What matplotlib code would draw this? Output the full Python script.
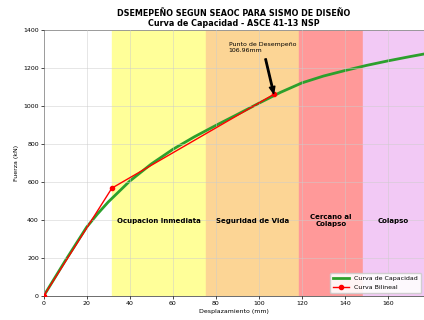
import matplotlib
matplotlib.use('Agg')
import matplotlib.pyplot as plt

# Capacity curve
disp = [0, 10, 20, 25, 30, 40, 50, 60, 70, 80, 90, 100, 110, 120, 130, 140, 150, 160, 170, 176.7]
force = [0, 185, 363, 432, 495, 605, 695, 772, 838, 898, 956, 1015, 1072, 1122, 1158, 1187, 1214, 1238, 1260, 1274]

# Bilinear curve
bil_disp = [0, 31.7, 106.96]
bil_force = [0, 568, 1062]

# Performance zones
zone_edges = [31.7, 75.4, 118.7, 148.5, 176.7]
zone_colors = ['#ffff99', '#fcd595', '#ff9999', '#f2c9f5']
zone_names = ['Ocupacion Inmediata', 'Seguridad de Vida', 'Cercano al\nColapso', 'Colapso']

perf_x = 106.96
perf_y = 1062

fig = plt.figure(figsize=(4.24, 3.2), dpi=100)
ax = fig.add_axes([0.103, 0.075, 0.897, 0.831])

for i in range(4):
    ax.axvspan(zone_edges[i], zone_edges[i + 1], color=zone_colors[i], zorder=0)
    ax.text((zone_edges[i] + zone_edges[i + 1]) / 2, 395, zone_names[i],
            ha='center', va='center', fontsize=5, fontweight='bold', zorder=3)

ax.plot(disp, force, color='#2ca02c', linewidth=2, label='Curva de Capacidad', zorder=2)
ax.plot(bil_disp, bil_force, color='red', linewidth=1, marker='o', markersize=3,
        label='Curva Bilineal', zorder=3)

# annotation: text plus arrow from its lower right
ax.text(86, 1280, 'Punto de Desempeño\n106.96mm', fontsize=4.5, ha='left', va='bottom')
ax.annotate('', xy=(perf_x, perf_y), xytext=(103, 1252),
            arrowprops=dict(facecolor='black', width=1, headwidth=4, headlength=5, shrink=0.02))

ax.set_xlim(0, 176.7)
ax.set_ylim(0, 1400)
ax.set_xticks(range(0, 161, 20))
ax.set_yticks(range(0, 1401, 200))
ax.tick_params(labelsize=4.5, length=2, width=0.5, pad=1.5)
ax.grid(True, color='#cccccc', linewidth=0.5, alpha=0.7)
ax.set_axisbelow(False)
for s in ax.spines.values():
    s.set_linewidth(0.6)
    s.set_color('#555555')

ax.set_xlabel('Desplazamiento (mm)', fontsize=4.5, labelpad=2)
ax.set_ylabel('Fuerza (kN)', fontsize=4.5, labelpad=3)
ax.set_title('DSEMEPEÑO SEGUN SEAOC PARA SISMO DE DISEÑO\nCurva de Capacidad - ASCE 41-13 NSP',
             fontsize=5.8, fontweight='bold', pad=3, linespacing=1.1)
ax.legend(loc='lower right', fontsize=4.5, framealpha=0.9, borderpad=0.5, handlelength=2.5)

fig.savefig('out.png', dpi=100)
